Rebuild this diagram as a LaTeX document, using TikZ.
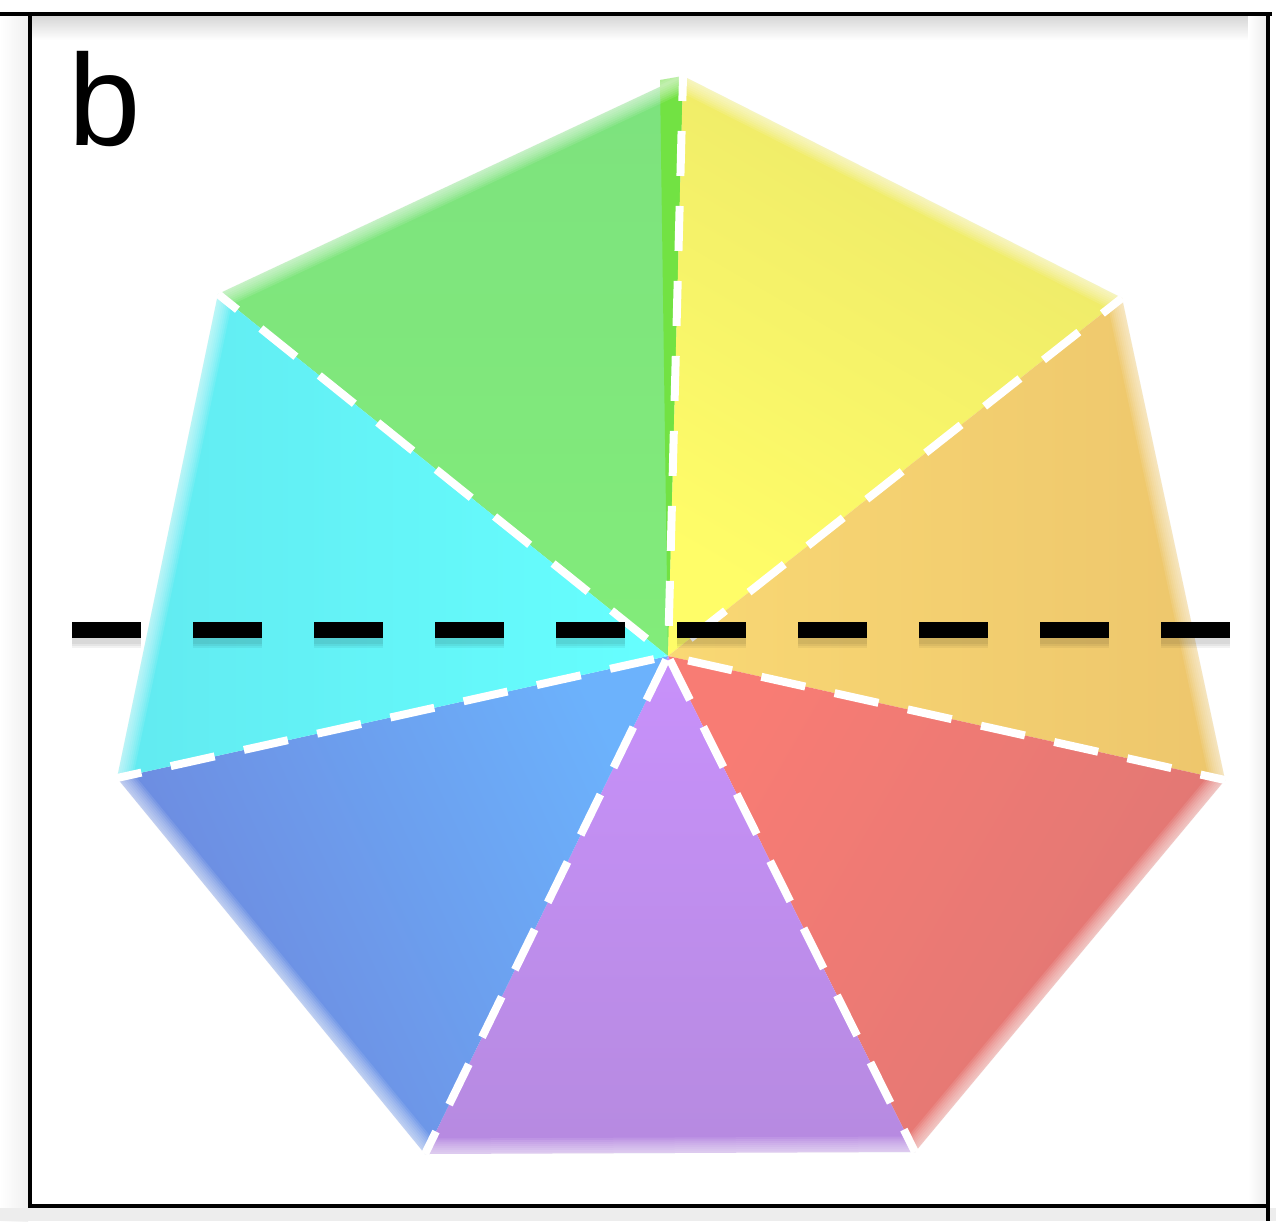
\documentclass[tikz,border=0pt]{standalone}
\usepackage{fontspec}
\setmainfont{Liberation Sans}
\definecolor{cgreenin}{HTML}{82EC7A}
\definecolor{cgreenout}{HTML}{7DE27E}
\definecolor{cgreenb}{HTML}{72E243}
\definecolor{cyelin}{HTML}{FFFD68}
\definecolor{cyelout}{HTML}{ECE86A}
\definecolor{corgin}{HTML}{F9D874}
\definecolor{corgout}{HTML}{EDC66C}
\definecolor{credin}{HTML}{F87C74}
\definecolor{credout}{HTML}{DE7774}
\definecolor{cpurin}{HTML}{C891FB}
\definecolor{cpurout}{HTML}{B68AE0}
\definecolor{cbluin}{HTML}{6CB2FC}
\definecolor{cbluout}{HTML}{6D86DC}
\definecolor{ccyain}{HTML}{66FFFF}
\definecolor{ccyaout}{HTML}{62EAF0}
\begin{document}
\begin{tikzpicture}[x=1pt,y=-1pt,
  frame/.style={line width=3.5pt, black},
  seam/.style={white, line width=8pt, dash pattern=on 45pt off 30pt},
  axisline/.style={black, line width=16pt, dash pattern=on 69pt off 52pt},
  softedge/.style={white, line join=round},
]
\useasboundingbox (0,0) rectangle (1276,1221);
\fill[white] (0,0) rectangle (1276,1221);
% subtle shadows of the frame
\shade[top color=black!16, bottom color=white] (32,16) rectangle (1266,40);
\shade[left color=white, right color=black!7] (1248,16) rectangle (1266,1204);
\shade[left color=white, right color=black!6] (0,16) rectangle (28,1221);
\fill[black!7] (0,1208) rectangle (1276,1221);

% heptagon points
\coordinate (O) at (668,656);
\coordinate (V1) at (683,76);
\coordinate (V2) at (1122,298);
\coordinate (V3) at (1225,780);
\coordinate (V4) at (915,1152);
\coordinate (V5) at (425,1154);
\coordinate (V6) at (117,778);
\coordinate (V7) at (218,294);
\coordinate (G) at (660,80);

% wedges (shading axis: first colour points along 90+angle degrees)
\shade[top color=cgreenout, bottom color=cgreenin] (O) -- (V7) -- (V1) -- cycle;
\fill[cgreenb] (O) -- (G) -- (V1) -- cycle;
\shade[top color=cyelout, bottom color=cyelin, shading angle=-30] (O) -- (V1) -- (V2) -- cycle;
\shade[top color=corgin, bottom color=corgout, shading angle=90] (O) -- (V2) -- (V3) -- cycle;
\shade[top color=credin, bottom color=credout, shading angle=60] (O) -- (V3) -- (V4) -- cycle;
\shade[top color=cpurin, bottom color=cpurout] (O) -- (V4) -- (V5) -- cycle;
\shade[top color=cbluout, bottom color=cbluin, shading angle=115] (O) -- (V5) -- (V6) -- cycle;
\shade[top color=ccyaout, bottom color=ccyain, shading angle=90] (O) -- (V6) -- (V7) -- cycle;

% soft (blurred) outer edge
\foreach \w in {3,7,...,31}
  \draw[softedge, opacity=.1, line width=\w pt] (V1) -- (V2) -- (V3) -- (V4) -- (V5) -- (V6) -- (V7) -- cycle;

% white dashed seams
\foreach \v in {V1,V2,V3,V4,V5,V6,V7}
  \draw[seam, dash phase=20pt] (\v) -- (O);

% black dashed axis with soft shadow
\coordinate (L) at (72,630);
\coordinate (R) at (1230,630);
\foreach \w in {18,22,26}
  \draw[axisline, opacity=.05, line width=\w pt] ([yshift=-5pt]L) -- ([yshift=-5pt]R);
\draw[axisline] (L) -- (R);

% frame
\draw[frame] (0,14) -- (1272,14);
\draw[frame] (30,14) -- (30,1207.5);
\draw[frame] (28.25,1206) -- (1270,1206);
\draw[frame] (1268,12.25) -- (1268,1221);

% label
\node[anchor=base west, inner sep=0pt, font=\fontsize{130}{130}\selectfont] (lbl) at (68,145) {b};
\end{tikzpicture}
\end{document}
